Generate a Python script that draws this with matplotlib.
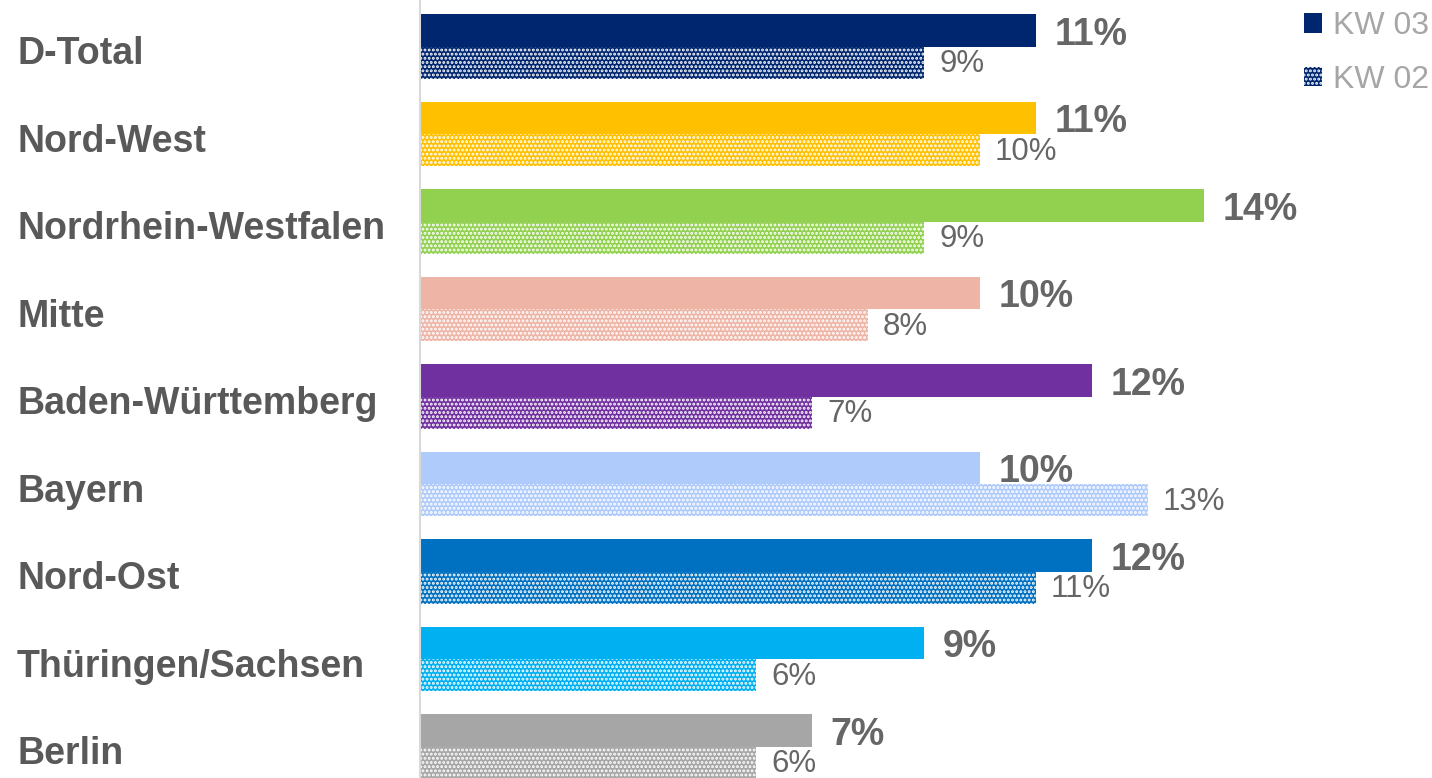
import matplotlib
matplotlib.use('Agg')
import matplotlib.pyplot as plt
import matplotlib.transforms as mtransforms
from matplotlib.patches import Patch

plt.rcParams['font.family'] = ['Liberation Sans', 'DejaVu Sans']
plt.rcParams['hatch.linewidth'] = 1.4

regions = ['D-Total', 'Nord-West', 'Nordrhein-Westfalen', 'Mitte',
           'Baden-Württemberg', 'Bayern', 'Nord-Ost', 'Thüringen/Sachsen', 'Berlin']
kw03 = [11, 11, 14, 10, 12, 10, 12, 9, 7]
kw02 = [9, 10, 9, 8, 7, 13, 11, 6, 6]
colors = ['#00266F', '#FFC000', '#92D050', '#EEB4A6', '#7030A0',
          '#AFCBFB', '#0070C0', '#00B0F0', '#A6A6A6']
series_names = ['KW 03', 'KW 02']

label_grey = '#595959'
value_grey = '#666666'

fig = plt.figure(figsize=(14.32, 7.78), dpi=100)
ax = fig.add_axes([420 / 1432, 0, 1 - 420 / 1432, 1])

h = 0.366
ys = list(range(len(regions)))
for i, y in enumerate(ys):
    ax.barh(y - h / 2, kw03[i], height=h, color=colors[i], linewidth=0)
    ax.barh(y + h / 2, kw02[i], height=h, color=colors[i], edgecolor='white',
            linewidth=0, hatch='....')
    ax.text(kw03[i] + 0.33, y - h / 2 + 0.05, f'{kw03[i]}%', ha='left', va='center',
            fontsize=27, fontweight='bold', color=value_grey)
    ax.text(kw02[i] + 0.27, y + h / 2 + 0.02, f'{kw02[i]}%', ha='left', va='center',
            fontsize=22.5, color=value_grey)

ax.set_xlim(0, 1012 / 56.0)
ax.set_ylim((778 - 46.5) / 87.5, -46.5 / 87.5)
ax.set_xticks([])
ax.set_yticks([])
for side in ['top', 'right', 'bottom']:
    ax.spines[side].set_visible(False)
ax.spines['left'].set_color('#D9D9D9')
ax.spines['left'].set_linewidth(1.5)

# region names on the left, in figure x / data y
trans = mtransforms.blended_transform_factory(fig.transFigure, ax.transData)
for y, name in zip(ys, regions):
    ax.text(17 / 1432, y + 0.09, name, transform=trans, ha='left', va='center',
            fontsize=27, fontweight='bold', color=label_grey)

handles = [Patch(facecolor=colors[0], linewidth=0),
           Patch(facecolor=colors[0], edgecolor='white', linewidth=0, hatch='....')]
leg = fig.legend(handles, series_names, loc='upper right', bbox_to_anchor=(1.0056, 1.0),
                 frameon=False, fontsize=23, labelcolor='#A6A6A6',
                 handlelength=0.55, handleheight=0.55, handletextpad=0.35,
                 labelspacing=0.75, borderaxespad=0.0, borderpad=0.35)

fig.savefig('out.png', dpi=100)
